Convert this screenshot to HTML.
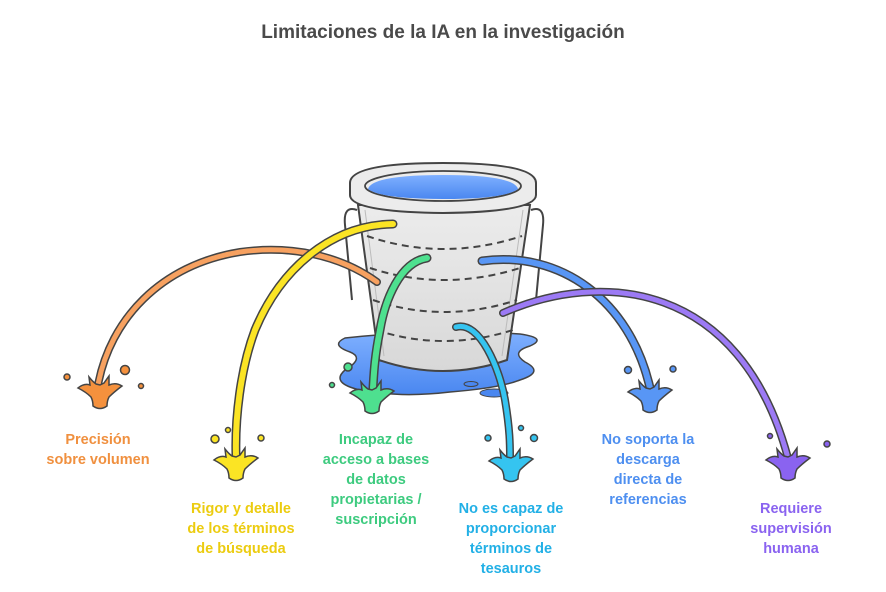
<!DOCTYPE html>
<html><head><meta charset="utf-8"><style>
html,body{margin:0;padding:0;background:#fff;}
svg{display:block}
text{font-family:"Liberation Sans",sans-serif;font-weight:bold;text-anchor:middle}
</style></head><body>
<svg width="886" height="592" viewBox="0 0 886 592" xmlns="http://www.w3.org/2000/svg">
<defs>
<linearGradient id="water" x1="0" y1="0" x2="0" y2="1"><stop offset="0" stop-color="#7fb0ff"/><stop offset="1" stop-color="#4a87f0"/></linearGradient>
<linearGradient id="body" x1="0" y1="0" x2="0" y2="1"><stop offset="0" stop-color="#ececec"/><stop offset="1" stop-color="#d8d8d8"/></linearGradient>
<path id="spl" d="M-22,0 Q-16,-5 -10,-3 L-11,-11 Q-7,-6 -4,-4 L0,-3 L4,-5 L9,-12 L9,-3 Q16,-6 22,-2 Q14,4 9,9 Q7,13 7,18 Q0,23 -7,18 Q-7,13 -9,9 Q-14,4 -22,0 Z"/>
</defs>
<text x="443" y="38" font-size="19" fill="#4a4a4a">Limitaciones de la IA en la investigación</text>

<path d="M345,338 Q330,345 350,352 Q365,358 345,370 Q330,383 360,390 Q400,398 450,392 Q500,388 520,380 Q545,372 525,362 Q510,352 530,346 Q548,338 520,334 Q440,328 345,338 Z" fill="url(#water)" stroke="#444" stroke-width="1.5"/>
<ellipse cx="471" cy="384" rx="7" ry="2.5" fill="#4a87f0" stroke="#444" stroke-width="1"/>
<ellipse cx="494" cy="393" rx="14" ry="4" fill="#4a87f0" stroke="#444" stroke-width="1"/>
<path d="M357,210 Q343,205 345,225 L352,300" fill="none" stroke="#444" stroke-width="2"/>
<path d="M531,210 Q545,205 543,225 L536,300" fill="none" stroke="#444" stroke-width="2"/>
<path d="M358,205 L379,360 Q443,382 507,360 L530,205 Z" fill="url(#body)" stroke="#444" stroke-width="2"/>
<path d="M365,210 L384,356 M523,210 L502,356" fill="none" stroke="#bbb" stroke-width="1"/>
<g fill="none" stroke="#444" stroke-width="2" stroke-dasharray="7,5">
<path d="M367,236 Q443,262 522,236"/>
<path d="M370,268 Q443,292 520,268"/>
<path d="M373,300 Q443,324 517,300"/>
<path d="M376,330 Q443,352 513,330"/>
</g>
<path d="M350,183 Q350,163 443,163 Q536,163 536,183 L536,195 Q536,212 443,213 Q350,212 350,195 Z" fill="#ececec" stroke="#444" stroke-width="2"/>
<ellipse cx="443" cy="186" rx="78" ry="15" fill="#ececec" stroke="#444" stroke-width="1.8"/>
<path d="M368,189 Q372,175 443,175 Q514,175 518,189 Q505,199 443,199 Q381,199 368,189 Z" fill="url(#water)"/>

<g fill="none" stroke-linecap="round">
<path d="M377,282 C340,255 290,245 240,252 C160,265 110,320 98,385" stroke="#444" stroke-width="8"/>
<path d="M377,282 C340,255 290,245 240,252 C160,265 110,320 98,385" stroke="#f7a160" stroke-width="5"/>
<path d="M393,224 C330,225 280,270 255,330 C240,370 235,420 236,455" stroke="#444" stroke-width="9"/>
<path d="M393,224 C330,225 280,270 255,330 C240,370 235,420 236,455" stroke="#fbe424" stroke-width="6"/>
<path d="M427,258 C400,262 385,300 380,330 C375,355 374,370 373,388" stroke="#444" stroke-width="9"/>
<path d="M427,258 C400,262 385,300 380,330 C375,355 374,370 373,388" stroke="#4ee08f" stroke-width="6"/>
<path d="M456,327 C480,320 500,370 505,400 C510,430 510,445 510,458" stroke="#444" stroke-width="8"/>
<path d="M456,327 C480,320 500,370 505,400 C510,430 510,445 510,458" stroke="#35c4f0" stroke-width="5"/>
<path d="M482,261 C560,250 630,300 650,388" stroke="#444" stroke-width="9"/>
<path d="M482,261 C560,250 630,300 650,388" stroke="#5896f5" stroke-width="6"/>
<path d="M503,313 C600,270 740,280 788,458" stroke="#444" stroke-width="8"/>
<path d="M503,313 C600,270 740,280 788,458" stroke="#9c7af5" stroke-width="5"/>
</g>

<g stroke="#444" stroke-width="1.5">
<use href="#spl" x="100" y="388" fill="#f5913d"/>
<circle cx="67" cy="377" r="3" fill="#f5913d"/><circle cx="125" cy="370" r="4.5" fill="#f5913d"/><circle cx="141" cy="386" r="2.5" fill="#f5913d"/>
<use href="#spl" x="236" y="460" fill="#fbe424"/>
<circle cx="215" cy="439" r="4" fill="#fbe424"/><circle cx="228" cy="430" r="2.5" fill="#fbe424"/><circle cx="261" cy="438" r="3" fill="#fbe424"/>
<use href="#spl" x="372" y="393" fill="#4ee08f"/>
<circle cx="348" cy="367" r="4" fill="#4ee08f"/><circle cx="332" cy="385" r="2.5" fill="#4ee08f"/>
<use href="#spl" x="511" y="461" fill="#35c4f0"/>
<circle cx="488" cy="438" r="3" fill="#35c4f0"/><circle cx="521" cy="428" r="2.5" fill="#35c4f0"/><circle cx="534" cy="438" r="3.5" fill="#35c4f0"/>
<use href="#spl" x="650" y="392" fill="#5896f5"/>
<circle cx="628" cy="370" r="3.5" fill="#5896f5"/><circle cx="673" cy="369" r="3" fill="#5896f5"/>
<use href="#spl" x="788" y="460" fill="#8a63f0"/>
<circle cx="770" cy="436" r="2.5" fill="#8a63f0"/><circle cx="827" cy="444" r="3" fill="#8a63f0"/>
</g>

<g font-size="14.5">
<text x="98" y="444" fill="#f0903f">Precisión</text>
<text x="98" y="464" fill="#f0903f">sobre volumen</text>
<text x="241" y="513" fill="#eccc10">Rigor y detalle</text>
<text x="241" y="533" fill="#eccc10">de los términos</text>
<text x="241" y="553" fill="#eccc10">de búsqueda</text>
<text x="376" y="444" fill="#3dcb7f">Incapaz de</text>
<text x="376" y="464" fill="#3dcb7f">acceso a bases</text>
<text x="376" y="484" fill="#3dcb7f">de datos</text>
<text x="376" y="504" fill="#3dcb7f">propietarias /</text>
<text x="376" y="524" fill="#3dcb7f">suscripción</text>
<text x="511" y="513" fill="#22b0e6">No es capaz de</text>
<text x="511" y="533" fill="#22b0e6">proporcionar</text>
<text x="511" y="553" fill="#22b0e6">términos de</text>
<text x="511" y="573" fill="#22b0e6">tesauros</text>
<text x="648" y="444" fill="#4e8ff0">No soporta la</text>
<text x="648" y="464" fill="#4e8ff0">descarga</text>
<text x="648" y="484" fill="#4e8ff0">directa de</text>
<text x="648" y="504" fill="#4e8ff0">referencias</text>
<text x="791" y="513" fill="#8a63f0">Requiere</text>
<text x="791" y="533" fill="#8a63f0">supervisión</text>
<text x="791" y="553" fill="#8a63f0">humana</text>
</g>
</svg>
</body></html>
